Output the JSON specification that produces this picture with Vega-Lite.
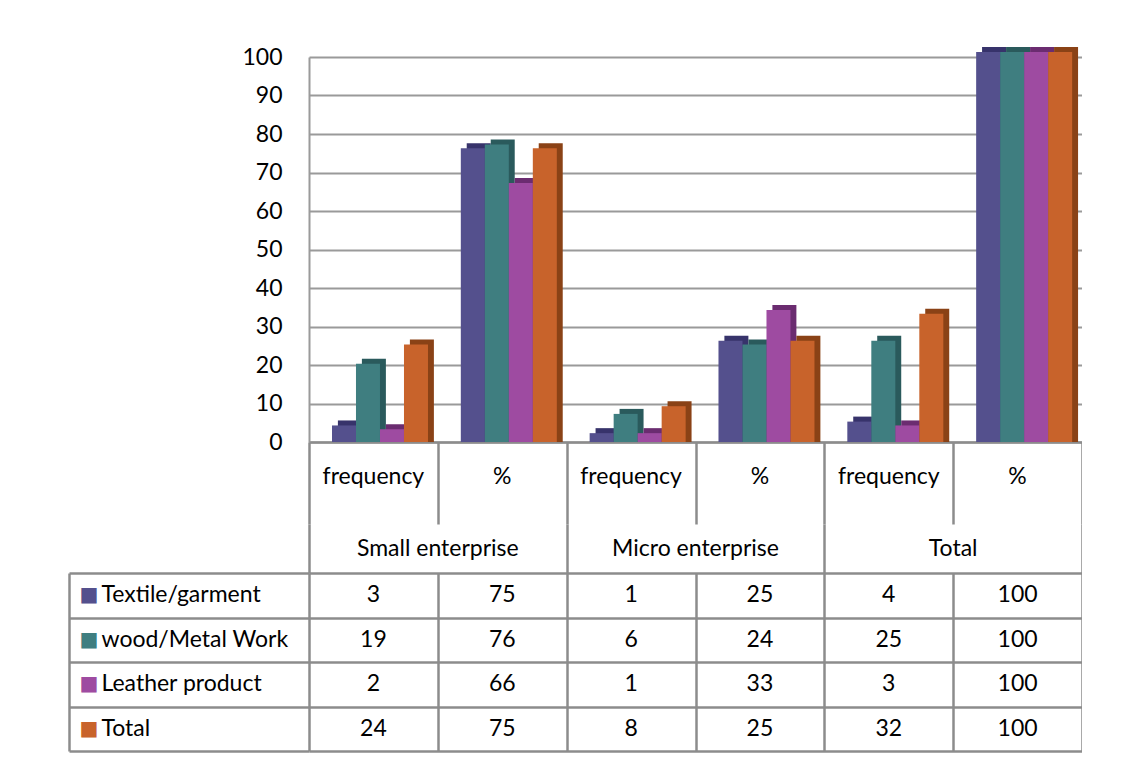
{
  "$schema": "https://vega.github.io/schema/vega-lite/v6.json",
  "padding": {"left": 67, "top": 46, "right": 0, "bottom": 0},
  "background": "white",
  "spacing": 0,
  "bounds": "flush",
  "config": {
    "view": {"stroke": null},
    "axis": {"labelFont": "Lato", "labelFontSize": 23, "labelLimit": 400, "domainColor": "#8c8c8c", "tickColor": "#8c8c8c", "gridColor": "#8c8c8c"},
    "text": {"font": "Lato", "fontSize": 23, "color": "#000000"}
  },
  "datasets": {
    "rows": [
      {"group": "Small enterprise", "measure": "frequency", "col": "Small enterprise|frequency", "series": "Textile/garment", "value": 3},
      {"group": "Small enterprise", "measure": "frequency", "col": "Small enterprise|frequency", "series": "wood/Metal Work", "value": 19},
      {"group": "Small enterprise", "measure": "frequency", "col": "Small enterprise|frequency", "series": "Leather product", "value": 2},
      {"group": "Small enterprise", "measure": "frequency", "col": "Small enterprise|frequency", "series": "Total", "value": 24},
      {"group": "Small enterprise", "measure": "%", "col": "Small enterprise|%", "series": "Textile/garment", "value": 75},
      {"group": "Small enterprise", "measure": "%", "col": "Small enterprise|%", "series": "wood/Metal Work", "value": 76},
      {"group": "Small enterprise", "measure": "%", "col": "Small enterprise|%", "series": "Leather product", "value": 66},
      {"group": "Small enterprise", "measure": "%", "col": "Small enterprise|%", "series": "Total", "value": 75},
      {"group": "Micro enterprise", "measure": "frequency", "col": "Micro enterprise|frequency", "series": "Textile/garment", "value": 1},
      {"group": "Micro enterprise", "measure": "frequency", "col": "Micro enterprise|frequency", "series": "wood/Metal Work", "value": 6},
      {"group": "Micro enterprise", "measure": "frequency", "col": "Micro enterprise|frequency", "series": "Leather product", "value": 1},
      {"group": "Micro enterprise", "measure": "frequency", "col": "Micro enterprise|frequency", "series": "Total", "value": 8},
      {"group": "Micro enterprise", "measure": "%", "col": "Micro enterprise|%", "series": "Textile/garment", "value": 25},
      {"group": "Micro enterprise", "measure": "%", "col": "Micro enterprise|%", "series": "wood/Metal Work", "value": 24},
      {"group": "Micro enterprise", "measure": "%", "col": "Micro enterprise|%", "series": "Leather product", "value": 33},
      {"group": "Micro enterprise", "measure": "%", "col": "Micro enterprise|%", "series": "Total", "value": 25},
      {"group": "Total", "measure": "frequency", "col": "Total|frequency", "series": "Textile/garment", "value": 4},
      {"group": "Total", "measure": "frequency", "col": "Total|frequency", "series": "wood/Metal Work", "value": 25},
      {"group": "Total", "measure": "frequency", "col": "Total|frequency", "series": "Leather product", "value": 3},
      {"group": "Total", "measure": "frequency", "col": "Total|frequency", "series": "Total", "value": 32},
      {"group": "Total", "measure": "%", "col": "Total|%", "series": "Textile/garment", "value": 100},
      {"group": "Total", "measure": "%", "col": "Total|%", "series": "wood/Metal Work", "value": 100},
      {"group": "Total", "measure": "%", "col": "Total|%", "series": "Leather product", "value": 100},
      {"group": "Total", "measure": "%", "col": "Total|%", "series": "Total", "value": 100}
    ]
  },
  "vconcat": [
    {
      "width": 773,
      "height": 385,
      "data": {"name": "rows"},
      "layer": [
        {
          "mark": {"type": "bar", "yOffset": -10},
          "encoding": {
            "x": {"field": "col", "type": "nominal", "title": null,
                  "scale": {"domain": ["Small enterprise|frequency", "Small enterprise|%", "Micro enterprise|frequency", "Micro enterprise|%", "Total|frequency", "Total|%"], "paddingInner": 0, "paddingOuter": 0},
                  "axis": {"orient": "bottom", "domain": true, "domainWidth": 2.5, "domainColor": "#8c8c8c", "ticks": false, "labels": false, "grid": false}},
            "xOffset": {"field": "series", "type": "nominal",
                        "scale": {"domain": ["Textile/garment", "wood/Metal Work", "Leather product", "Total"], "paddingInner": 0, "paddingOuter": 0.684, "align": 0.88}},
            "y": {"field": "value", "type": "quantitative", "stack": null, "title": null,
                  "scale": {"domain": [0, 100]},
                  "axis": {"orient": "left", "ticks": false, "grid": true, "gridColor": "#9a9a9a", "gridWidth": 2, "domain": true, "domainColor": "#9a9a9a", "domainWidth": 2, "labelPadding": 27, "labelColor": "#000000", "tickCount": 10}},
            "color": {"field": "series", "type": "nominal", "legend": null,
                      "scale": {"domain": ["Textile/garment", "wood/Metal Work", "Leather product", "Total"], "range": ["#37336B", "#2A5A5C", "#6B2C70", "#8A4216"]}}
          }
        },
        {
          "mark": {"type": "bar", "yOffset": -5},
          "encoding": {
            "x": {"field": "col", "type": "nominal", "title": null,
                  "scale": {"domain": ["Small enterprise|frequency", "Small enterprise|%", "Micro enterprise|frequency", "Micro enterprise|%", "Total|frequency", "Total|%"], "paddingInner": 0, "paddingOuter": 0},
                  "axis": {"orient": "bottom", "domain": true, "domainWidth": 2.5, "domainColor": "#8c8c8c", "ticks": false, "labels": false, "grid": false}},
            "xOffset": {"field": "series", "type": "nominal",
                        "scale": {"domain": ["Textile/garment", "wood/Metal Work", "Leather product", "Total"], "paddingInner": 0, "paddingOuter": 0.684, "align": 0.70}},
            "y": {"field": "value", "type": "quantitative", "stack": null, "title": null,
                  "scale": {"domain": [0, 100]},
                  "axis": {"orient": "left", "ticks": false, "grid": true, "gridColor": "#9a9a9a", "gridWidth": 2, "domain": true, "domainColor": "#9a9a9a", "domainWidth": 2, "labelPadding": 27, "labelColor": "#000000", "tickCount": 10}},
            "color": {"field": "series", "type": "nominal", "legend": null,
                      "scale": {"domain": ["Textile/garment", "wood/Metal Work", "Leather product", "Total"], "range": ["#54508D", "#3F7E80", "#9E4BA1", "#C8632B"]}}
          }
        }
      ],
      "resolve": {"scale": {"xOffset": "independent", "color": "independent"}}
    },
    {
      "width": 773,
      "height": 82,
      "data": {"name": "rows"},
      "transform": [{"aggregate": [{"op": "count", "as": "n"}], "groupby": ["col", "measure"]}],
      "mark": {"type": "text", "baseline": "middle", "dy": -6},
      "encoding": {
        "x": {"field": "col", "type": "nominal", "title": null,
              "scale": {"domain": ["Small enterprise|frequency", "Small enterprise|%", "Micro enterprise|frequency", "Micro enterprise|%", "Total|frequency", "Total|%"], "paddingInner": 0, "paddingOuter": 0},
              "axis": {"orient": "top", "labels": false, "ticks": false, "domain": false, "grid": true, "tickBand": "extent", "gridWidth": 2.5, "gridColor": "#8c8c8c"}},
        "text": {"field": "measure"}
      }
    },
    {
      "width": 773,
      "height": 49,
      "data": {"name": "rows"},
      "transform": [{"aggregate": [{"op": "count", "as": "n"}], "groupby": ["group"]}],
      "mark": {"type": "text", "baseline": "middle"},
      "encoding": {
        "x": {"field": "group", "type": "nominal", "title": null,
              "scale": {"domain": ["Small enterprise", "Micro enterprise", "Total"], "paddingInner": 0, "paddingOuter": 0},
              "axis": {"orient": "top", "labels": false, "ticks": false, "domain": false, "grid": true, "tickBand": "extent", "gridWidth": 2.5, "gridColor": "#8c8c8c"}},
        "text": {"field": "group"}
      }
    },
    {
      "width": 773,
      "height": 178,
      "data": {"name": "rows"},
      "layer": [
        {
          "mark": {"type": "text", "baseline": "middle"},
          "encoding": {
            "x": {"field": "col", "type": "nominal", "title": null,
                  "scale": {"domain": ["Small enterprise|frequency", "Small enterprise|%", "Micro enterprise|frequency", "Micro enterprise|%", "Total|frequency", "Total|%"], "paddingInner": 0, "paddingOuter": 0},
                  "axis": {"orient": "top", "labels": false, "ticks": false, "domain": false, "grid": true, "tickBand": "extent", "gridWidth": 2.5, "gridColor": "#8c8c8c"}},
            "y": {"field": "series", "type": "nominal", "title": null,
                  "scale": {"domain": ["Textile/garment", "wood/Metal Work", "Leather product", "Total"], "paddingInner": 0, "paddingOuter": 0},
                  "axis": {"orient": "left", "domain": false, "ticks": true, "tickBand": "extent", "tickSize": 240, "tickWidth": 2.5, "tickColor": "#8c8c8c", "grid": true, "gridWidth": 2.5, "gridColor": "#8c8c8c", "labels": false}},
            "text": {"field": "value", "type": "quantitative"}
          }
        },
        {
          "mark": {"type": "text", "opacity": 0},
          "encoding": {
            "x": {"field": "col", "type": "nominal", "title": null,
                  "scale": {"domain": ["Small enterprise|frequency", "Small enterprise|%", "Micro enterprise|frequency", "Micro enterprise|%", "Total|frequency", "Total|%"], "paddingInner": 0, "paddingOuter": 0}},
            "y": {"field": "series", "type": "nominal", "title": null,
                  "scale": {"domain": ["Textile/garment", "wood/Metal Work", "Leather product", "Total"], "paddingInner": 0, "paddingOuter": 0},
                  "axis": {"orient": "left", "offset": 208, "domain": false, "ticks": false, "grid": false, "labelAlign": "left", "labelBaseline": "middle", "labelPadding": 0, "labelColor": "#000000", "labelOverlap": false}},
            "text": {"field": "value", "type": "quantitative"}
          }
        },
        {
          "mark": {"type": "text", "opacity": 0},
          "encoding": {
            "x": {"field": "col", "type": "nominal", "title": null,
                  "scale": {"domain": ["Small enterprise|frequency", "Small enterprise|%", "Micro enterprise|frequency", "Micro enterprise|%", "Total|frequency", "Total|%"], "paddingInner": 0, "paddingOuter": 0}},
            "y": {"field": "series", "type": "nominal", "title": null,
                  "scale": {"domain": ["Textile/garment", "wood/Metal Work", "Leather product", "Total"], "paddingInner": 0, "paddingOuter": 0},
                  "axis": {"orient": "left", "offset": 230, "domain": false, "ticks": false, "grid": false, "labelExpr": "'■'", "labelAlign": "left", "labelBaseline": "middle", "labelPadding": 0, "labelFont": "DejaVu Sans", "labelFontSize": 20, "labelOverlap": false,
                           "labelColor": {"condition": [
                             {"test": "datum.value === 'Textile/garment'", "value": "#54508D"},
                             {"test": "datum.value === 'wood/Metal Work'", "value": "#3F7E80"},
                             {"test": "datum.value === 'Leather product'", "value": "#9E4BA1"}
                           ], "value": "#C8632B"}}},
            "text": {"field": "value", "type": "quantitative"}
          }
        },
        {
          "mark": {"type": "text", "opacity": 0},
          "encoding": {
            "x": {"field": "col", "type": "nominal", "title": null,
                  "scale": {"domain": ["Small enterprise|frequency", "Small enterprise|%", "Micro enterprise|frequency", "Micro enterprise|%", "Total|frequency", "Total|%"], "paddingInner": 0, "paddingOuter": 0}},
            "y": {"field": "series", "type": "nominal", "title": null,
                  "scale": {"domain": ["Textile/garment", "wood/Metal Work", "Leather product", "Total"], "paddingInner": 0, "paddingOuter": 0},
                  "axis": {"orient": "left", "offset": 240, "domain": true, "domainWidth": 2.5, "domainColor": "#8c8c8c", "ticks": false, "grid": false, "labels": false}},
            "text": {"field": "value", "type": "quantitative"}
          }
        }
      ],
      "resolve": {"axis": {"y": "independent"}}
    }
  ]
}
